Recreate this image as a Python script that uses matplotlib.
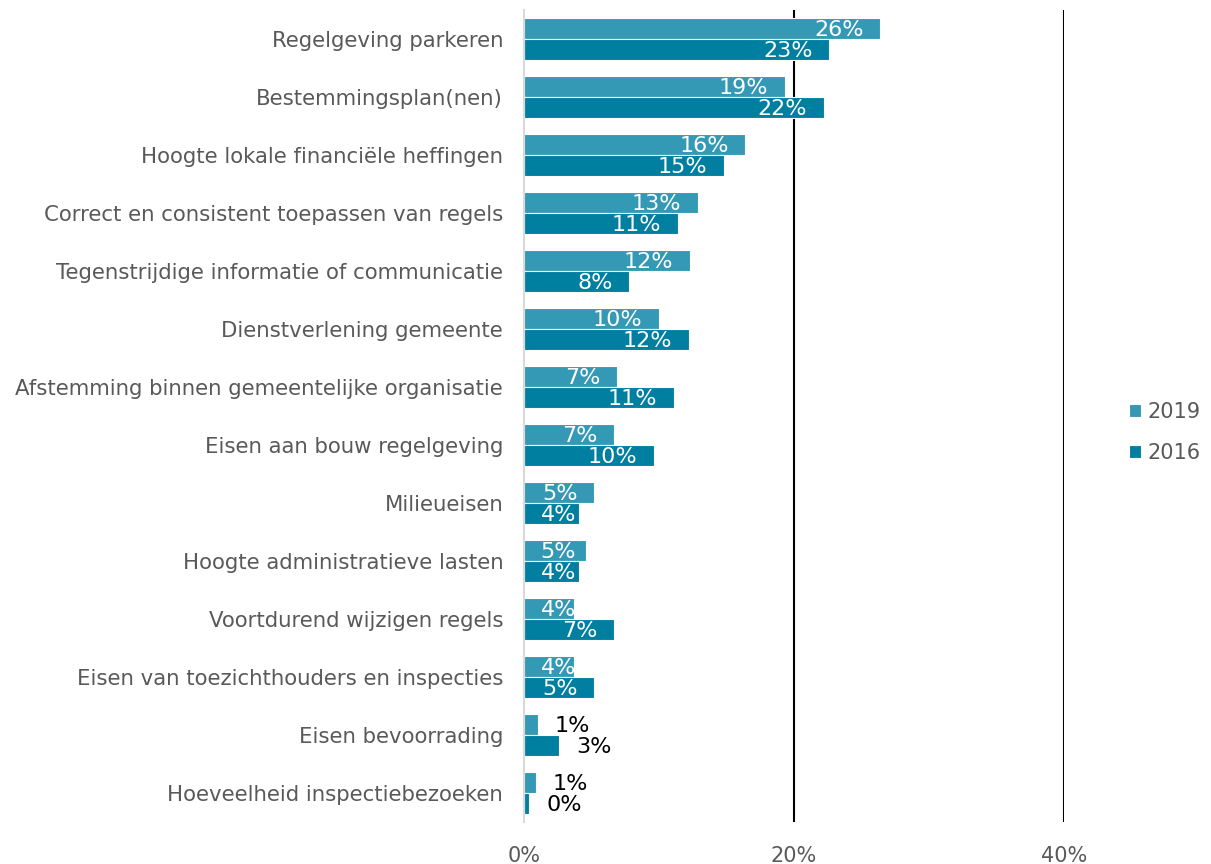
import numpy as np
import matplotlib
matplotlib.use("Agg")
import matplotlib.pyplot as plt

categories = [
    "Regelgeving parkeren",
    "Bestemmingsplan(nen)",
    "Hoogte lokale financiële heffingen",
    "Correct en consistent toepassen van regels",
    "Tegenstrijdige informatie of communicatie",
    "Dienstverlening gemeente",
    "Afstemming binnen gemeentelijke organisatie",
    "Eisen aan bouw regelgeving",
    "Milieueisen",
    "Hoogte administratieve lasten",
    "Voortdurend wijzigen regels",
    "Eisen van toezichthouders en inspecties",
    "Eisen bevoorrading",
    "Hoeveelheid inspectiebezoeken",
]
values_2019 = [26.4, 19.3, 16.4, 12.9, 12.3, 10.0, 6.9, 6.7, 5.2, 4.6, 3.7, 3.7, 1.0, 0.9]
values_2016 = [22.6, 22.2, 14.8, 11.4, 7.8, 12.2, 11.1, 9.6, 4.1, 4.1, 6.7, 5.2, 2.6, 0.4]
x_ticks = [0, 20, 40]

c2019 = "#3399B4"
c2016 = "#007FA0"
grey = "#595959"

fig = plt.figure(figsize=(12.11, 8.64), dpi=100)
ax = fig.add_axes([524 / 1211, 1 - 822 / 864, (1064 - 524) / 1211, 812 / 864])

y = np.arange(len(categories))
h = 0.36
b19 = ax.barh(y - h / 2, values_2019, height=h, color=c2019, edgecolor="white", linewidth=0.8, label="2019", zorder=3)
b16 = ax.barh(y + h / 2, values_2016, height=h, color=c2016, edgecolor="white", linewidth=0.8, label="2016", zorder=3)

# percent per pixel along x, used to decide whether a label fits in its bar
pct_per_px = 40 / (1064 - 524)

for bars, vals in ((b19, values_2019), (b16, values_2016)):
    for bar, v in zip(bars, vals):
        yc = bar.get_y() + bar.get_height() / 2
        txt = f"{v:.0f}%"
        if v < 3:
            ax.annotate(txt, (v, yc), xytext=(12, -1), textcoords="offset points",
                        ha="left", va="center", color="black", fontsize=16, zorder=4)
        elif v > 70 * pct_per_px:
            ax.annotate(txt, (v, yc), xytext=(-12, -1), textcoords="offset points",
                        ha="right", va="center", color="white", fontsize=16, zorder=4)
        else:
            t = ax.annotate(txt, (0, yc), xytext=(12, -1), textcoords="offset points",
                            ha="left", va="center", color="white", fontsize=16, zorder=4)
            t.set_clip_path(bar)

ax.set_ylim(len(categories) - 0.5, -0.5)
ax.set_xlim(0, 40)
ax.set_yticks(y)
ax.set_yticklabels(categories, fontsize=15.3, color=grey)
ax.set_xticks(x_ticks)
ax.set_xticklabels([f"{t}%" for t in x_ticks], fontsize=15, color=grey)
ax.tick_params(axis="both", length=0)
ax.tick_params(axis="y", pad=15)
ax.tick_params(axis="x", pad=17)

for s in ("top", "right", "bottom"):
    ax.spines[s].set_visible(False)
ax.spines["left"].set_color("#D9D9D9")
ax.spines["left"].set_linewidth(1.5)
ax.spines["left"].set_zorder(5)
for t in x_ticks[1:]:
    ax.axvline(t, color="black", linewidth=1.5, zorder=1)

ax.legend(loc="center left", bbox_to_anchor=(1.085, 0.48), frameon=False, fontsize=15,
          labelcolor=grey, handlelength=0.6, handleheight=0.6, handletextpad=0.3,
          labelspacing=1.0)

fig.savefig("out.png", dpi=100)
